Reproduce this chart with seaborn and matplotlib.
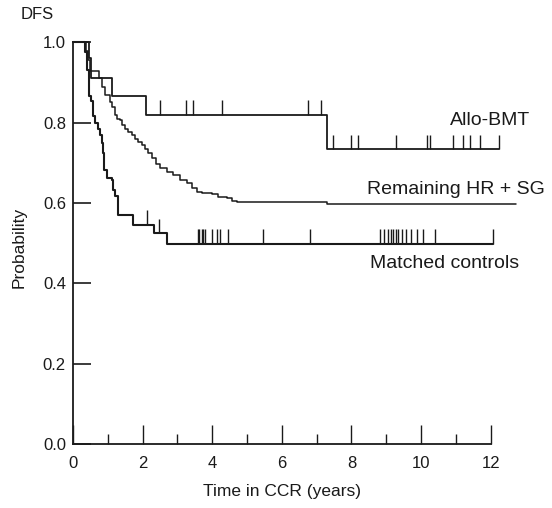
import numpy as np
import pandas as pd
import matplotlib
matplotlib.use("Agg")
import matplotlib.pyplot as plt
import seaborn as sns

# --- dados (Kaplan-Meier, DFS) ---
allo_t = [0, 0.46, 0.52, 1.11, 2.10, 7.29, 12.23]
allo_p = [1.0, 0.96, 0.91, 0.866, 0.819, 0.733, 0.733]
allo_censor = [2.50, 3.24, 3.45, 4.27, 6.75, 7.14, 7.48, 7.98, 8.19, 9.27,
               10.18, 10.25, 10.92, 11.19, 11.40, 11.68, 12.23]

hr_t = [0, 0.39, 0.44, 0.49, 0.75, 0.83, 0.93, 1.07, 1.12, 1.21, 1.26, 1.36,
        1.41, 1.50, 1.59, 1.69, 1.79, 1.88, 1.98, 2.07, 2.17, 2.27, 2.38,
        2.50, 2.70, 2.89, 3.08, 3.27, 3.41, 3.56, 3.70, 3.99, 4.18, 4.42,
        4.56, 4.70, 7.30, 12.72]
hr_p = [1.0, 0.977, 0.956, 0.927, 0.91, 0.889, 0.869, 0.851, 0.839, 0.818,
        0.810, 0.806, 0.794, 0.785, 0.777, 0.769, 0.760, 0.752, 0.744, 0.733,
        0.723, 0.711, 0.698, 0.686, 0.677, 0.669, 0.657, 0.649, 0.636, 0.628,
        0.624, 0.622, 0.615, 0.611, 0.605, 0.601, 0.598, 0.598]

ctrl_t = [0, 0.36, 0.42, 0.46, 0.53, 0.58, 0.65, 0.71, 0.78, 0.83, 0.87,
          0.90, 0.97, 1.11, 1.15, 1.20, 1.30, 1.73, 2.33, 2.70, 12.07]
ctrl_p = [1.0, 0.975, 0.93, 0.867, 0.854, 0.817, 0.80, 0.783, 0.77, 0.749,
          0.724, 0.683, 0.662, 0.658, 0.633, 0.616, 0.570, 0.545, 0.524,
          0.498, 0.498]
ctrl_censor = [2.12, 2.48, 3.59, 3.63, 3.70, 3.75, 3.80, 3.99, 4.13, 4.23,
               4.46, 5.47, 6.81, 8.82, 8.94, 9.05, 9.13, 9.20, 9.27, 9.35,
               9.45, 9.58, 9.72, 9.87, 10.06, 10.39, 12.07]

groups = ["Allo-BMT", "Remaining HR + SG", "Matched controls"]
x_ticks = [0, 2, 4, 6, 8, 10, 12]
y_ticks = [0.0, 0.2, 0.4, 0.6, 0.8, 1.0]

sns.set_theme(style="white")
plt.rcParams["font.family"] = ["Liberation Sans", "DejaVu Sans"]
plt.rcParams["font.size"] = 12

fig = plt.figure(figsize=(5.52, 5.08), dpi=100)
ax = fig.add_axes([0.132, 0.126, 0.757, 0.791])

ink = "#1a1a1a"
series = [(groups[0], allo_t, allo_p, allo_censor, 1.3),
          (groups[1], hr_t, hr_p, [], 1.1),
          (groups[2], ctrl_t, ctrl_p, ctrl_censor, 1.5)]

for name, ts, ps, cens, lw in series:
    df = pd.DataFrame({"t": ts, "p": ps})
    sns.lineplot(data=df, x="t", y="p", ax=ax, estimator=None, sort=False,
                 drawstyle="steps-post", color=ink, linewidth=lw, clip_on=False)
    if cens:
        # ticks de censura sobre a curva
        idx = np.searchsorted(ts, cens, side="right") - 1
        yc = np.asarray(ps)[idx]
        ax.vlines(cens, yc, yc + 0.037, color=ink, linewidth=1.0, clip_on=False)

# rótulos das curvas
ax.text(11.97, 0.806, "Allo-BMT", ha="center", va="center", fontsize=14, color=ink)
ax.text(11.0, 0.634, "Remaining HR + SG", ha="center", va="center", fontsize=14, color=ink)
ax.text(10.66, 0.45, "Matched controls", ha="center", va="center", fontsize=14, color=ink)

ax.set_xlim(0, 12)
ax.set_ylim(0, 1)
ax.set_xticks(x_ticks)
ax.set_xticks([1, 3, 5, 7, 9, 11], minor=True)
ax.set_yticks(y_ticks)
ax.set_yticklabels([f"{v:.1f}" for v in y_ticks])
ax.tick_params(axis="x", which="major", direction="in", length=14, width=1.0,
               colors=ink, labelsize=12, pad=9, bottom=True)
ax.tick_params(axis="x", which="minor", direction="in", length=7, width=1.0,
               colors=ink, bottom=True)
ax.tick_params(axis="y", direction="in", length=13, width=1.2, colors=ink,
               labelsize=12, pad=5, left=True)

for s in ["top", "right"]:
    ax.spines[s].set_visible(False)
for s in ["left", "bottom"]:
    ax.spines[s].set_color(ink)
    ax.spines[s].set_linewidth(1.3)

ax.set_xlabel("Time in CCR (years)", fontsize=12.5, color=ink)
ax.xaxis.set_label_coords(0.5, -0.1)
ax.set_ylabel("Probability", fontsize=12.5, color=ink)
ax.yaxis.set_label_coords(-0.11, 0.49)
ax.text(-0.125, 1.07, "DFS", transform=ax.transAxes, ha="left", va="center",
        fontsize=12, color=ink)

fig.savefig("out.png", dpi=100)
